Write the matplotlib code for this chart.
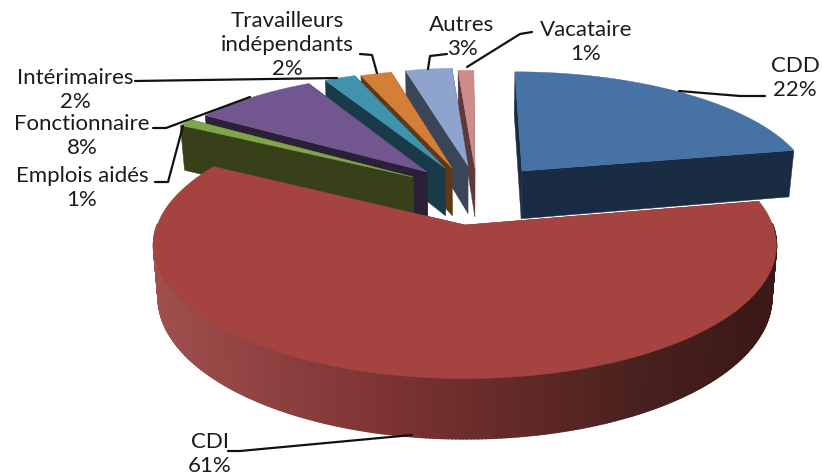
import numpy as np
import matplotlib
matplotlib.use('Agg')
import matplotlib.pyplot as plt
from matplotlib.patches import Polygon

# ========================== DATA ==========================
categories = ['CDD', 'CDI', 'Emplois aidés', 'Fonctionnaire', 'Intérimaires',
              'Travailleurs\nindépendants', 'Autres', 'Vacataire']
values = [22, 61, 1, 8, 2, 2, 3, 1]

# ========================== STYLE / LAYOUT ==========================
top_colors = ['#4672a6', '#a54341', '#7fa648', '#71568f', '#3f93ad', '#d47f38', '#8ea4cc', '#cd8c8b']
wall_colors = ['#1a2c44', '#5c2624', '#374019', '#2c2038', '#193b49', '#5f3816', '#3b4558', '#5c3a3a']
apex_px = [(522, 172), (465, 226), (413, 178), (427, 173), (445, 169), (452, 169), (468, 167), (475, 170)]
radius_scale = [1, 1.009, 1, 1, 1, 1, 1, 1]

# label centre (x, y of first line) and leader line in pixels
label_pos = [(795, 66), (210, 442), (82, 176), (82, 124), (75, 78), (287, 21), (462, 25), (586, 30)]
leaders = [
    [(679, 92), (740, 97), (765, 97)],
    [(412, 436), (240, 452), (228, 452)],
    [(155, 183), (168, 183), (183, 127)],
    [(153, 129), (166, 129), (250, 98)],
    [(135, 82), (337, 79)],
    [(360, 55), (372, 56), (377, 74)],
    [(447, 55), (430, 57), (428, 70)],
    [(532, 33), (520, 35), (467, 68)],
]

X0, Y0 = 465, 226
R, A, K = 305, 129, 0.151
H = 51
BOTTOM_SHRINK = 0.985
side_x = [150, 400, 650, 780]
side_rgb = np.array([[160, 80, 78], [122, 50, 49], [71, 32, 29], [58, 24, 21]]) / 255

plt.rcParams['font.family'] = ['Lato', 'DejaVu Sans']


def to_world(px, py):
    yr = Y0 - py
    wy = yr / (A - K * yr)
    wx = (px - X0) / R * (1 + K * wy)
    return wx, wy


def project(wx, wy):
    s = 1 / (1 + K * wy)
    return X0 + R * wx * s, Y0 - A * wy * s


def project_low(wx, wy):
    s = 1 / (1 + K * wy)
    x, y = project(wx, wy)
    return X0 + (x - X0) * BOTTOM_SHRINK, y + H * s


fig = plt.figure(figsize=(8.22, 4.77), dpi=100)
ax = fig.add_axes([0, 0, 1, 1])
ax.set_xlim(0, 822)
ax.set_ylim(477, 0)
ax.axis('off')

edges = np.cumsum([0] + values) / sum(values) * 2 * np.pi

# far slices first, CDD and CDI last
order = [7, 6, 5, 4, 3, 2, 0, 1]
for z, i in enumerate(order):
    ox, oy = to_world(*apex_px[i])
    th = np.linspace(edges[i], edges[i + 1], max(3, int(values[i] * 6)))
    wx = ox + radius_scale[i] * np.sin(th)
    wy = oy + radius_scale[i] * np.cos(th)

    walls = []
    # the two radial walls
    for j in (0, -1):
        quad = [project(ox, oy), project(wx[j], wy[j]), project_low(wx[j], wy[j]), project_low(ox, oy)]
        walls.append(((oy + wy[j]) / 2, quad, wall_colors[i], 0.3))
    # the outer wall, only its front part shows; thick strips so that no seams show
    for j in range(len(th) - 1):
        if np.cos(th[j]) > 0 and np.cos(th[j + 1]) > 0:
            continue
        quad = [project(wx[j], wy[j]), project(wx[j + 1], wy[j + 1]),
                project_low(wx[j + 1], wy[j + 1]), project_low(wx[j], wy[j])]
        c = wall_colors[i]
        if i == 1:
            xm = (quad[0][0] + quad[1][0]) / 2
            c = [np.interp(xm, side_x, side_rgb[:, k]) for k in range(3)]
        walls.append(((wy[j] + wy[j + 1]) / 2, quad, c, 1.2))
    walls.sort(key=lambda w: -w[0])
    for _, quad, c, lw in walls:
        ax.add_patch(Polygon(quad, closed=True, fc=c, ec=c, lw=lw, zorder=z * 2 + 1))

    top = [project(ox, oy)] + [project(a, b) for a, b in zip(wx, wy)]
    ax.add_patch(Polygon(top, closed=True, fc=top_colors[i], ec=top_colors[i], lw=0.3, zorder=z * 2 + 2))

for name, val, (lx, ly), pts in zip(categories, values, label_pos, leaders):
    lines = name.split('\n') + [f'{val}%']
    for n, line in enumerate(lines):
        ax.text(lx, ly + n * 24, line, ha='center', va='center', fontsize=16,
                color='#1c1c1c', zorder=40)
    xs, ys = zip(*pts)
    ax.plot(xs, ys, color='#111111', lw=1.6, zorder=30, solid_capstyle='round')

fig.savefig('out.png', dpi=100, facecolor='white')
